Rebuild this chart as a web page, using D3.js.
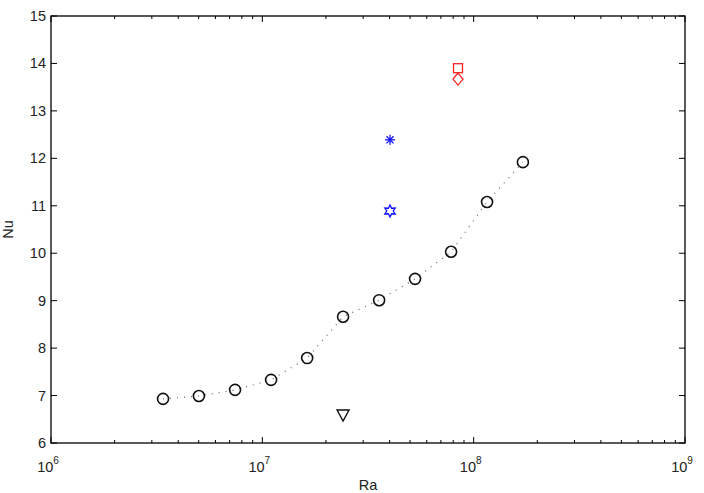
<!DOCTYPE html>
<html>
<head>
<meta charset="utf-8">
<script src="https://cdn.jsdelivr.net/npm/d3@7"></script>
<style>
  body { margin: 0; background: #fff; }
  text { font-family: "Liberation Sans", Arial, sans-serif; }
</style>
</head>
<body>
<div id="chart"></div>
<script>
const width = 704;
const height = 493;
const margin = { top: 16, right: 19, bottom: 50, left: 51 };

// main series (circles joined by a dotted line)
const ra = [3.39e6, 5.01e6, 7.43e6, 1.10e7, 1.63e7, 2.41e7, 3.57e7, 5.28e7, 7.82e7, 1.157e8, 1.71e8];
const nu = [6.93, 6.99, 7.12, 7.33, 7.79, 8.66, 9.01, 9.46, 10.03, 11.08, 11.92];

// single points
const triRa = [2.41e7];
const triNu = [6.59];
const blueRa = [4.02e7, 4.02e7];
const blueNu = [12.39, 10.89];
const redRa = [8.43e7, 8.43e7];
const redNu = [13.90, 13.67];

const xDecades = [1e6, 1e7, 1e8, 1e9];
const yTicks = [6, 7, 8, 9, 10, 11, 12, 13, 14, 15];

const svg = d3.select('#chart').append('svg')
    .attr('width', width)
    .attr('height', height);

const x = d3.scaleLog().domain([1e6, 1e9]).range([margin.left, width - margin.right]);
const y = d3.scaleLinear().domain([6, 15]).range([height - margin.bottom, margin.top]);

const x0 = margin.left, x1 = width - margin.right;
const y0 = height - margin.bottom, y1 = margin.top;

// minor ticks for log axis
const minor = [];
for (let d = 1e6; d < 1e9; d *= 10) {
    for (let k = 2; k <= 9; k++) minor.push(d * k);
}

const ax = svg.append('g').attr('stroke', '#000').attr('stroke-width', 1);
ax.selectAll('.minb').data(minor).enter().append('line')
    .attr('x1', d => x(d)).attr('x2', d => x(d))
    .attr('y1', y0).attr('y2', y0 - 3);
ax.selectAll('.mint').data(minor).enter().append('line')
    .attr('x1', d => x(d)).attr('x2', d => x(d))
    .attr('y1', y1).attr('y2', y1 + 3);
ax.selectAll('.majb').data(xDecades).enter().append('line')
    .attr('x1', d => x(d)).attr('x2', d => x(d))
    .attr('y1', y0).attr('y2', y0 - 6);
ax.selectAll('.majt').data(xDecades).enter().append('line')
    .attr('x1', d => x(d)).attr('x2', d => x(d))
    .attr('y1', y1).attr('y2', y1 + 6);
ax.selectAll('.yl').data(yTicks).enter().append('line')
    .attr('x1', x0).attr('x2', x0 + 6)
    .attr('y1', d => y(d)).attr('y2', d => y(d));
ax.selectAll('.yr').data(yTicks).enter().append('line')
    .attr('x1', x1).attr('x2', x1 - 6)
    .attr('y1', d => y(d)).attr('y2', d => y(d));

svg.append('rect')
    .attr('x', x0).attr('y', y1)
    .attr('width', x1 - x0).attr('height', y0 - y1)
    .attr('fill', 'none').attr('stroke', '#000').attr('stroke-width', 1.3);

// tick labels
svg.selectAll('.ylab').data(yTicks).enter().append('text')
    .attr('x', x0 - 5).attr('y', d => y(d) + 5)
    .attr('text-anchor', 'end')
    .attr('font-size', '14.5px')
    .attr('fill', '#222')
    .text(d => d);

const xl = svg.selectAll('.xlab').data(xDecades).enter().append('text')
    .attr('x', d => x(d) - 3).attr('y', y0 + 29)
    .attr('text-anchor', 'middle')
    .attr('font-size', '14.5px')
    .attr('fill', '#222');
xl.append('tspan').text('10');
xl.append('tspan').attr('dy', -8).attr('font-size', '10px').text(d => Math.round(Math.log10(d)));

svg.append('text')
    .attr('x', (x0 + x1) / 2).attr('y', height - 3)
    .attr('text-anchor', 'middle')
    .attr('font-size', '14.5px')
    .attr('fill', '#222')
    .text('Ra');

svg.append('text')
    .attr('transform', `translate(13, ${(y0 + y1) / 2}) rotate(-90)`)
    .attr('text-anchor', 'middle')
    .attr('font-size', '14.5px')
    .attr('fill', '#222')
    .text('Nu');

// dotted line
const pts = ra.map((d, i) => [d, nu[i]]);
svg.append('path')
    .datum(pts)
    .attr('fill', 'none')
    .attr('stroke', '#666')
    .attr('stroke-width', 1.2)
    .attr('stroke-dasharray', '1,6')
    .attr('d', d3.line().x(d => x(d[0])).y(d => y(d[1])));

svg.selectAll('.circ').data(pts).enter().append('circle')
    .attr('cx', d => x(d[0])).attr('cy', d => y(d[1]))
    .attr('r', 5.5)
    .attr('fill', 'none')
    .attr('stroke', '#111')
    .attr('stroke-width', 1.6);

// triangle down
svg.selectAll('.tri').data(triRa).enter().append('path')
    .attr('transform', (d, i) => `translate(${x(d)},${y(triNu[i])})`)
    .attr('d', 'M-6,-5L6,-5L0,6Z')
    .attr('fill', 'none')
    .attr('stroke', '#111')
    .attr('stroke-width', 1.4);

// blue asterisk and hexagram
const blue = '#1010ff';
const astG = svg.append('g')
    .attr('transform', `translate(${x(blueRa[0])},${y(blueNu[0])})`)
    .attr('stroke', blue).attr('stroke-width', 1.3);
for (let k = 0; k < 4; k++) {
    const a = k * Math.PI / 4;
    astG.append('line')
        .attr('x1', -5 * Math.cos(a)).attr('y1', -5 * Math.sin(a))
        .attr('x2', 5 * Math.cos(a)).attr('y2', 5 * Math.sin(a));
}

const hex = d3.range(12).map(k => {
    const a = -Math.PI / 2 + k * Math.PI / 6;
    const r = k % 2 === 0 ? 6 : 3.2;
    return [r * Math.cos(a), r * Math.sin(a)];
});
svg.append('path')
    .attr('transform', `translate(${x(blueRa[1])},${y(blueNu[1])})`)
    .attr('d', 'M' + hex.join('L') + 'Z')
    .attr('fill', 'none')
    .attr('stroke', blue)
    .attr('stroke-width', 1.3);

// red square and diamond
const red = '#ff2020';
svg.append('rect')
    .attr('x', x(redRa[0]) - 4.5).attr('y', y(redNu[0]) - 4.5)
    .attr('width', 9).attr('height', 9)
    .attr('fill', 'none').attr('stroke', red).attr('stroke-width', 1.3);
svg.append('path')
    .attr('transform', `translate(${x(redRa[1])},${y(redNu[1])})`)
    .attr('d', 'M0,-6L5,0L0,6L-5,0Z')
    .attr('fill', 'none').attr('stroke', red).attr('stroke-width', 1.3);
</script>
</body>
</html>
